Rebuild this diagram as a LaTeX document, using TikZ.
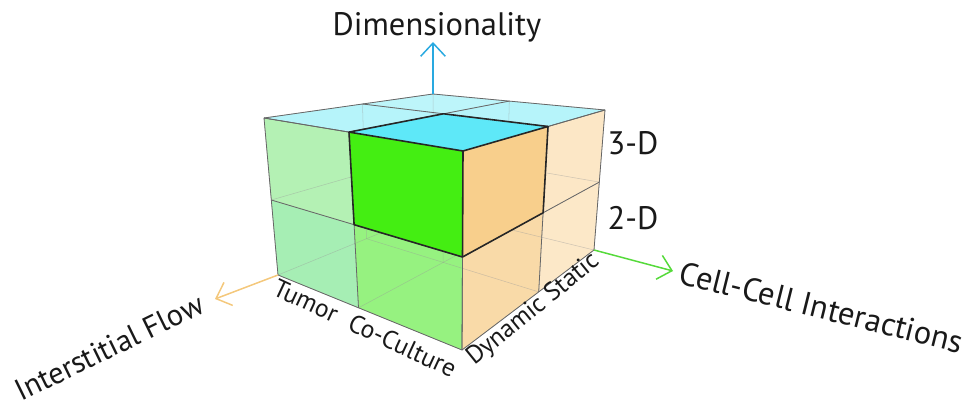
\documentclass[tikz,border=0pt]{standalone}
\usepackage{fontspec}
\setmainfont{PT Sans}
\usepackage{xcolor}
\usepackage{tikz}
\usetikzlibrary{arrows.meta}

\definecolor{dimblue}{HTML}{29A9E0}
\definecolor{cellgreen}{HTML}{55DA3A}
\definecolor{flowtan}{HTML}{F4C87C}
\definecolor{topcyan}{HTML}{B6F4FA}
\definecolor{hotcyan}{HTML}{5EE8F8}
\definecolor{hotgreen}{HTML}{44EE12}
\definecolor{hotpeach}{HTML}{F8CF8C}

\begin{document}
\begin{tikzpicture}[
    x=0.02cm, y=-0.02cm,
    cellfill/.style={draw=none},
    hidden/.style={draw=black!40, line width=0.3pt, opacity=0.45},
    faceline/.style={draw=black!60, line width=0.45pt, line join=round},
    cubeedge/.style={draw=black!85, line width=0.9pt, line join=round},
    axis/.style={-{Straight Barb[length=7.5pt, width=14pt]}, line width=0.85pt},
    biglabel/.style={font=\fontsize{18.5}{20}\selectfont, text=black!90, inner sep=0pt},
    smalllabel/.style={font=\fontsize{14.5}{16}\selectfont, text=black!90, inner sep=0pt}
]
\useasboundingbox (0,0) rectangle (966,408);

% Lattice points p<u><v><h>: u towards Tumor side, v towards Static side, h upwards
\coordinate (p002) at (463,151);
\coordinate (p102) at (349.0,132.1);
\coordinate (p202) at (264,118);
\coordinate (p012) at (548.0,126.5);
\coordinate (p112) at (443.5,113.8);
\coordinate (p212) at (362.5,104.0);
\coordinate (p022) at (605,110);
\coordinate (p122) at (509.3,101.1);
\coordinate (p222) at (433,94);

\coordinate (p001) at (462.5,257.0);
\coordinate (p101) at (354.1,224.7);
\coordinate (p201) at (271.3,200.0);
\coordinate (p011) at (543.1,212.8);
\coordinate (p111) at (443.4,190.7);
\coordinate (p211) at (364.5,173.1);
\coordinate (p021) at (599.3,182.1);
\coordinate (p121) at (507.7,166.2);
\coordinate (p221) at (433.5,153.3);

\coordinate (p000) at (462,350);
\coordinate (p100) at (358.5,307.8);
\coordinate (p200) at (278,275);
\coordinate (p010) at (538.7,291.9);
\coordinate (p110) at (443.2,262.4);
\coordinate (p210) at (366.5,238.7);
\coordinate (p020) at (594,250);
\coordinate (p120) at (506.2,228.6);
\coordinate (p220) at (434,211);

% Axis tips
\coordinate (dimtip) at (433,42);
\coordinate (celltip) at (673,271);
\coordinate (flowtip) at (215,299);

% Translucent faces, cell by cell
\fill[cellfill, fill={rgb,255:red,150;green,242;blue,128}] (p000) -- (p100) -- (p101) -- (p001) -- cycle;
\fill[cellfill, fill={rgb,255:red,166;green,238;blue,180}] (p100) -- (p200) -- (p201) -- (p101) -- cycle;
\fill[cellfill, fill={rgb,255:red,180;green,241;blue,180}] (p101) -- (p201) -- (p202) -- (p102) -- cycle;
\fill[cellfill, fill={rgb,255:red,249;green,218;blue,168}] (p000) -- (p010) -- (p011) -- (p001) -- cycle;
\fill[cellfill, fill={rgb,255:red,252;green,232;blue,200}] (p010) -- (p020) -- (p021) -- (p011) -- cycle;
\fill[cellfill, fill={rgb,255:red,252;green,231;blue,198}] (p011) -- (p021) -- (p022) -- (p012) -- cycle;
\fill[cellfill, fill=topcyan] (p102) -- (p202) -- (p212) -- (p112) -- cycle;
\fill[cellfill, fill=topcyan] (p012) -- (p112) -- (p122) -- (p022) -- cycle;
\fill[cellfill, fill=topcyan!90!white] (p112) -- (p212) -- (p222) -- (p122) -- cycle;

% Lines seen through the faces
\foreach \a in {0,1,2}{
    \foreach \b in {0,1,2}{
        \draw[hidden] (p0\a\b) -- (p1\a\b) -- (p2\a\b);
        \draw[hidden] (p\a0\b) -- (p\a1\b) -- (p\a2\b);
        \draw[hidden] (p\a\b0) -- (p\a\b1) -- (p\a\b2);
    }
}

% Lines on the front faces
\foreach \a in {0,1,2}{
    \draw[faceline] (p00\a) -- (p10\a) -- (p20\a);
    \draw[faceline] (p\a00) -- (p\a01) -- (p\a02);
    \draw[faceline] (p00\a) -- (p01\a) -- (p02\a);
    \draw[faceline] (p0\a0) -- (p0\a1) -- (p0\a2);
    \draw[faceline] (p0\a2) -- (p1\a2) -- (p2\a2);
    \draw[faceline] (p\a02) -- (p\a12) -- (p\a22);
}

% Highlighted cube
\fill[hotgreen] (p001) -- (p101) -- (p102) -- (p002) -- cycle;
\fill[hotpeach] (p001) -- (p011) -- (p012) -- (p002) -- cycle;
\fill[hotcyan] (p002) -- (p102) -- (p112) -- (p012) -- cycle;
\draw[cubeedge] (p001) -- (p101) -- (p102) -- (p112) -- (p012) -- (p011) -- cycle;
\draw[cubeedge] (p102) -- (p002) -- (p012);
\draw[cubeedge] (p002) -- (p001);

% Axes
\draw[axis, draw=dimblue] (p222) -- (dimtip);
\draw[axis, draw=cellgreen] (p020) -- (celltip);
\draw[axis, draw=flowtan] (p200) -- (flowtip);

% Labels
\node[biglabel, anchor=base] (dimlabel) at (437,36) {Dimensionality};
\node[biglabel, anchor=base west, rotate=-14] (celllabel) at (677,283) {Cell-Cell Interactions};
\node[biglabel, font=\fontsize{17.3}{19}\selectfont, anchor=base west, rotate=26] (flowlabel) at (21,402) {Interstitial Flow};
\node[biglabel] (threed) at (633,143) {3-D};
\node[biglabel] (twod) at (633,218) {2-D};
\node[smalllabel, anchor=base west, rotate=-25] (tumor) at (271,294) {Tumor};
\node[smalllabel, anchor=base west, rotate=-25] (coculture) at (346,329) {Co-Culture};
\node[smalllabel, anchor=base west, rotate=39] (dynstat) at (474,366) {Dynamic Static};

\end{tikzpicture}
\end{document}
